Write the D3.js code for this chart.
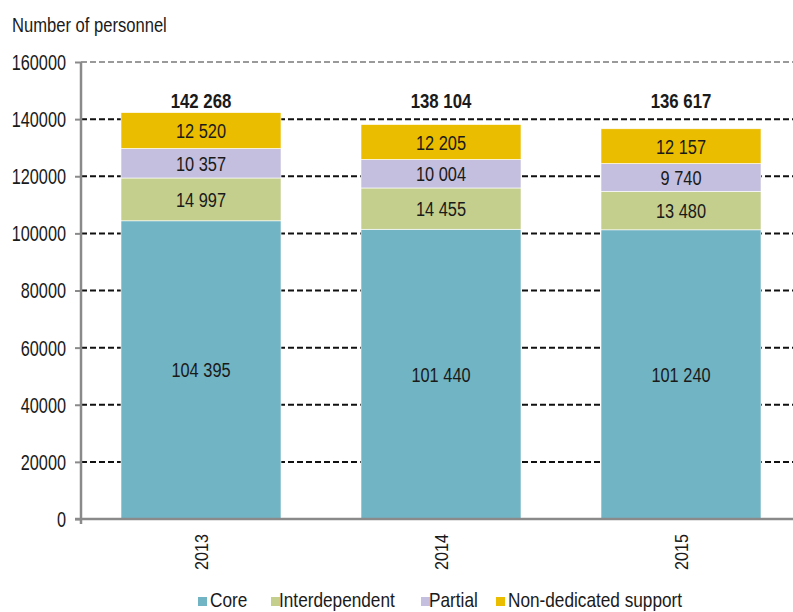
<!DOCTYPE html>
<html>
<head>
<meta charset="utf-8">
<script src="https://cdn.jsdelivr.net/npm/d3@7"></script>
<style>
  body { margin: 0; background: #fff; }
  svg { display: block; font-family: "Liberation Sans", Arial, sans-serif; }
</style>
</head>
<body>
<div id="chart"></div>
<script>
  // ── Data ──────────────────────────────────────────────────────────────
  const YEARS = ['2013', '2014', '2015'];
  const SERIES = ['Core', 'Interdependent', 'Partial', 'Non-dedicated support'];
  const CORE = [104395, 101440, 101240];
  const INTERDEPENDENT = [14997, 14455, 13480];
  const PARTIAL = [10357, 10004, 9740];
  const NON_DEDICATED = [12520, 12205, 12157];
  const TOTALS = [142268, 138104, 136617];
  const Y_TICKS = [0, 20000, 40000, 60000, 80000, 100000, 120000, 140000, 160000];
  const COLORS = ['#71b4c4', '#c4cf8e', '#c4bfde', '#ebbd00'];

  const width = 793, height = 612;
  const margin = { top: 62, right: -8, bottom: 93, left: 81 };
  const innerW = width - margin.left - margin.right;
  const innerH = height - margin.top - margin.bottom;
  const FS = 21;        // font size
  const SQ = 0.78;      // horizontal squeeze, mimics the condensed face

  const fmt = v => {
    const s = String(v);
    return s.length > 3 ? s.slice(0, s.length - 3) + ' ' + s.slice(-3) : s;
  };

  // condensed-looking text: a normal face squeezed horizontally
  function label(parent, px, py, str, opts = {}) {
    const rot = opts.rotate ? ` rotate(${opts.rotate})` : '';
    return parent.append('text')
      .attr('transform', `translate(${px},${py})${rot} scale(${opts.sq || SQ},1)`)
      .attr('text-anchor', opts.anchor || 'start')
      .attr('dy', opts.dy || 0)
      .attr('font-size', opts.size || FS)
      .attr('font-weight', opts.weight || 400)
      .attr('fill', '#1a1a1a')
      .text(str);
  }

  const svg = d3.select('#chart').append('svg')
    .attr('width', width).attr('height', height);

  const g = svg.append('g').attr('transform', `translate(${margin.left},${margin.top})`);

  const x = d3.scaleBand().domain(YEARS).range([0, innerW])
    .paddingInner(1 / 3).paddingOuter(1 / 6);
  const y = d3.scaleLinear().domain([0, 160000]).range([innerH, 0]);

  // Title
  label(svg, 12, 32, 'Number of personnel', { size: 21, sq: 0.79 });

  // Grid
  g.selectAll('.grid').data(Y_TICKS.filter(d => d > 0)).enter().append('line')
    .attr('x1', 0).attr('x2', innerW)
    .attr('y1', d => y(d)).attr('y2', d => y(d))
    .attr('stroke', d => d === 160000 ? '#9a9a9a' : '#111')
    .attr('stroke-width', 2)
    .attr('stroke-dasharray', '6,3');

  // Y axis ticks + labels
  const yAxis = g.append('g')
    .call(d3.axisLeft(y).tickValues(Y_TICKS).tickSize(6).tickFormat(''))
    .call(ax => ax.select('.domain').remove());
  yAxis.selectAll('.tick line').attr('stroke', '#8a8a8a').attr('stroke-width', 2);
  Y_TICKS.forEach(t => label(g, -15, y(t), String(t), { anchor: 'end', dy: '0.36em', size: 22, sq: 0.74 }));

  // Stacked bars
  const rows = YEARS.map((yr, i) => ({ year: yr, vals: [CORE[i], INTERDEPENDENT[i], PARTIAL[i], NON_DEDICATED[i]] }));
  rows.forEach((r, i) => {
    const cx = x(r.year) + x.bandwidth() / 2;
    let base = 0;
    r.vals.forEach((v, j) => {
      const y0 = y(base), y1 = y(base + v);
      g.append('rect')
        .attr('x', x(r.year)).attr('width', x.bandwidth())
        .attr('y', y1).attr('height', y0 - y1)
        .attr('fill', COLORS[j])
        .attr('stroke', '#fff').attr('stroke-width', 0.6);
      label(g, cx, (y0 + y1) / 2, fmt(v), { anchor: 'middle', dy: '0.36em' });
      base += v;
    });
    // totals sit on one common line just above the 140000 grid line
    label(g, cx, y(144000), fmt(TOTALS[i]), { anchor: 'middle', weight: 700, sq: 0.8 });
  });

  // Axis lines
  g.append('line').attr('x1', 0).attr('x2', 0).attr('y1', 0).attr('y2', innerH + 5)
    .attr('stroke', '#8a8a8a').attr('stroke-width', 2.5);
  g.append('line').attr('x1', -6).attr('x2', innerW).attr('y1', innerH).attr('y2', innerH)
    .attr('stroke', '#8a8a8a').attr('stroke-width', 2.5);

  // X labels (rotated)
  YEARS.forEach(yr => {
    const cx = x(yr) + x.bandwidth() / 2;
    label(g, cx + 7, innerH + 15, yr, { anchor: 'end', rotate: -90, size: 19, sq: 0.85 });
  });

  // Legend: square and text x positions per entry
  const LEG_SQ_X = [198, 271, 421, 496];
  const LEG_TX_X = [210, 279, 429, 508];
  SERIES.forEach((s, i) => {
    svg.append('rect').attr('x', LEG_SQ_X[i]).attr('y', 597).attr('width', 9).attr('height', 9).attr('fill', COLORS[i]);
    label(svg, LEG_TX_X[i], 607, s, { sq: 0.82 });
  });
</script>
</body>
</html>
